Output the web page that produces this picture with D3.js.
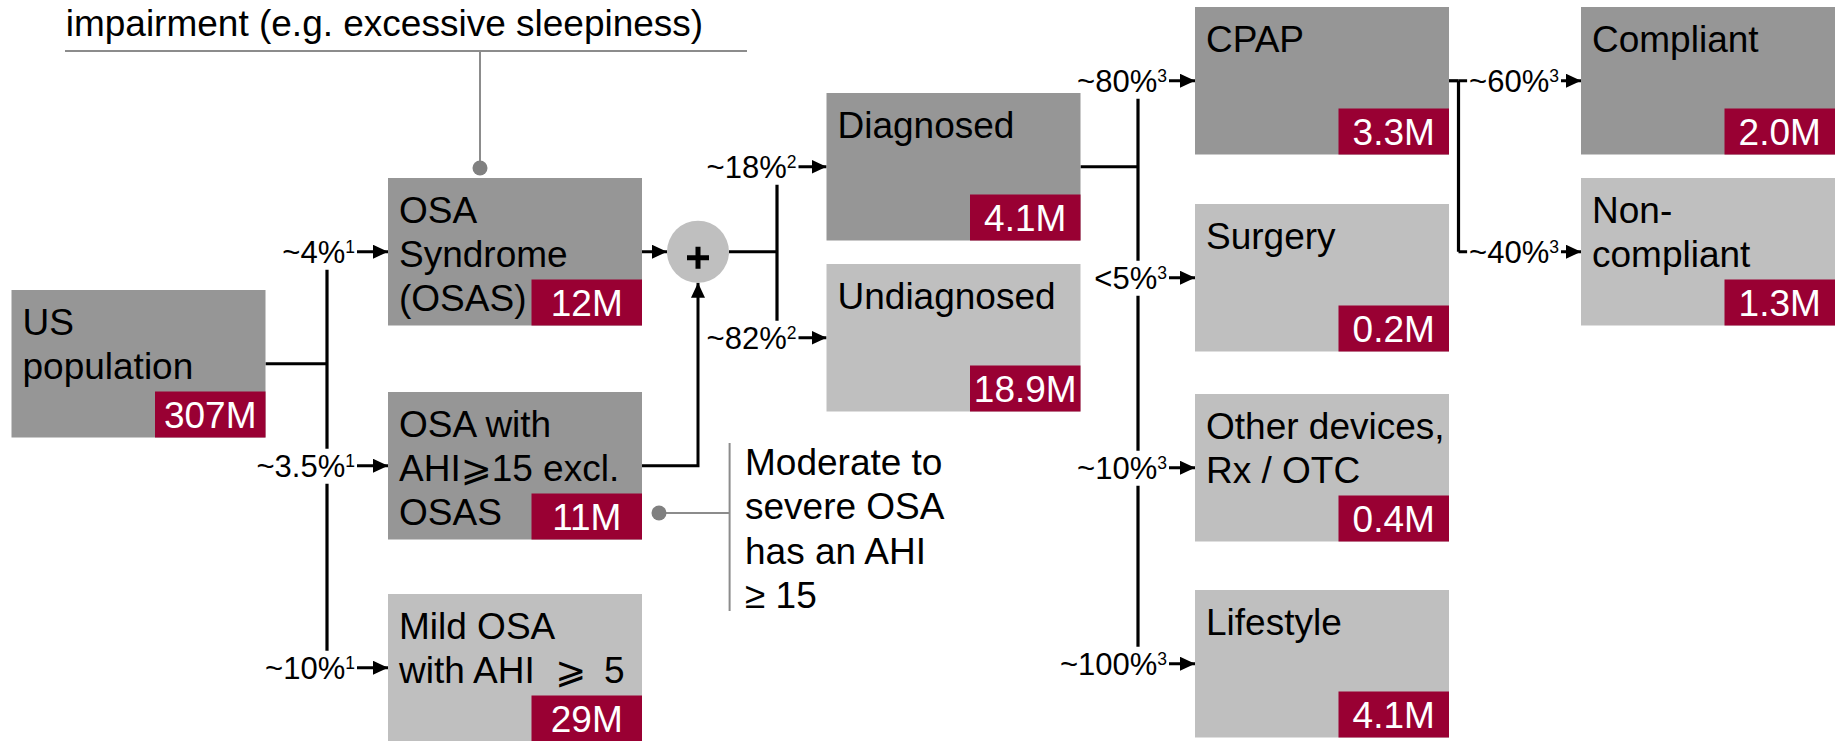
<!DOCTYPE html>
<html>
<head>
<meta charset="utf-8">
<script src="https://cdn.jsdelivr.net/npm/d3@7"></script>
<style>
  body { margin: 0; background: #fff; }
  svg { display: block; font-family: "Liberation Sans", Arial, Helvetica, "DejaVu Sans", sans-serif; }
</style>
</head>
<body>
<div id="container"></div>
<script>
// Funnel nodes
const nodeIds = ["us", "osas", "ahi15", "mild", "dx", "undx", "cpap", "surgery", "other", "lifestyle", "compliant", "noncompliant"];
const nodeLines = [
  ["US", "population"],
  ["OSA", "Syndrome", "(OSAS)"],
  ["OSA with", "AHI\u2A7E15 excl.", "OSAS"],
  ["Mild OSA", "with AHI\u00A0\u00A0\u2A7E\u2009 5"],
  ["Diagnosed"],
  ["Undiagnosed"],
  ["CPAP"],
  ["Surgery"],
  ["Other devices,", "Rx / OTC"],
  ["Lifestyle"],
  ["Compliant"],
  ["Non-", "compliant"]
];
// people, millions
const nodeValues = [307, 12, 11, 29, 4.1, 18.9, 3.3, 0.2, 0.4, 4.1, 2.0, 1.3];

// Flows between nodes ("plus" = OSAS + AHI>=15 combined)
const edgeSources = ["us", "us", "us", "plus", "plus", "dx", "dx", "dx", "dx", "cpap", "cpap"];
const edgeTargets = ["osas", "ahi15", "mild", "dx", "undx", "cpap", "surgery", "other", "lifestyle", "compliant", "noncompliant"];
const edgeShares = [4, 3.5, 10, 18, 82, 80, 5, 10, 100, 60, 40];
const edgeQualifiers = ["~", "~", "~", "~", "~", "~", "<", "~", "~", "~", "~"];
const edgeFootnotes = [1, 1, 1, 2, 2, 3, 3, 3, 3, 3, 3];

// Callout notes
const topNote = ["impairment (e.g. excessive sleepiness)"];
const sideNote = ["Moderate to", "severe OSA", "has an AHI", "\u2265 15"];

const width = 1843, height = 741;
const boxW = 254, boxH = 147.5;
const valW = 110.5, valH = 46;
const fontBig = 37, fontLabel = 31, fontSup = 17.5;
const dark = "#969696", light = "#bfbfbf", red = "#990033", noteGray = "#8c8c8c";

// layout (kept apart from the data)
const colX = d3.scaleOrdinal().domain([0, 1, 2, 3, 4]).range([11.5, 388, 826.5, 1195, 1581]);
const nodeCol = {us: 0, osas: 1, ahi15: 1, mild: 1, dx: 2, undx: 2, cpap: 3, surgery: 3, other: 3, lifestyle: 3, compliant: 4, noncompliant: 4};
const nodeTop = {us: 290, osas: 178, ahi15: 392, mild: 594, dx: 93, undx: 264, cpap: 7, surgery: 204, other: 394, lifestyle: 590, compliant: 7, noncompliant: 178};
const darkNodes = new Set(["us", "osas", "ahi15", "dx", "cpap", "compliant"]);
const branchX = {us: 327, plus: 777, dx: 1138, cpap: 1458.5};
const labelGap = {us: 33, plus: 30, dx: 28, cpap: 22};

const nodes = nodeIds.map((id, i) => ({
  id, lines: nodeLines[i], value: nodeValues[i],
  x: colX(nodeCol[id]), y: nodeTop[id]
}));
const byId = Object.fromEntries(nodes.map(d => [d.id, d]));
const cy = n => n.y + boxH / 2;

const plus = {cx: 698, cy: cy(byId.osas), r: 31};

const fmtInt = d3.format("d"), fmtDec = d3.format(".1f");
const fmtValue = d => (nodeCol[d.id] >= 2 ? fmtDec(d.value) : fmtInt(d.value)) + "M";

const svg = d3.select("#container")
  .append("svg")
  .attr("width", width)
  .attr("height", height);

svg.append("rect").attr("width", width).attr("height", height).attr("fill", "#fff");

svg.append("defs").append("marker")
  .attr("id", "arrow")
  .attr("markerUnits", "userSpaceOnUse")
  .attr("viewBox", "0 0 15 14")
  .attr("refX", 15).attr("refY", 7)
  .attr("markerWidth", 15).attr("markerHeight", 14)
  .attr("orient", "auto")
  .append("path")
  .attr("d", "M0,0L15,7L0,14Z")
  .attr("fill", "#000");

// layers: connectors under labels, labels under boxes
const notes = svg.append("g");
const lines = svg.append("g").attr("stroke", "#000").attr("fill", "none");
const labelLayer = svg.append("g");
const boxLayer = svg.append("g");

// ---- callout notes (gray)
notes.append("text")
  .attr("x", 65.7).attr("y", 35.7)
  .attr("font-size", fontBig)
  .text(topNote[0]);
notes.append("line")
  .attr("x1", 65).attr("x2", 747).attr("y1", 51).attr("y2", 51)
  .attr("stroke", noteGray).attr("stroke-width", 2);
notes.append("line")
  .attr("x1", 480).attr("x2", 480).attr("y1", 51).attr("y2", 168)
  .attr("stroke", noteGray).attr("stroke-width", 2);
notes.append("circle").attr("cx", 480).attr("cy", 168).attr("r", 7.5).attr("fill", "#808080");

const ahi = byId.ahi15;
notes.append("line")
  .attr("x1", ahi.x + boxW + 17).attr("x2", 729.6)
  .attr("y1", 513).attr("y2", 513)
  .attr("stroke", noteGray).attr("stroke-width", 2);
notes.append("circle").attr("cx", ahi.x + boxW + 17).attr("cy", 513).attr("r", 7.5).attr("fill", "#808080");
notes.append("line")
  .attr("x1", 729.6).attr("x2", 729.6).attr("y1", 443).attr("y2", 611)
  .attr("stroke", noteGray).attr("stroke-width", 2);
notes.append("text")
  .attr("font-size", fontBig)
  .selectAll("tspan")
  .data(sideNote)
  .join("tspan")
  .attr("x", 745)
  .attr("y", (d, i) => 475 + i * 44.3)
  .text(d => d);

// ---- boxes
const box = boxLayer.selectAll("g")
  .data(nodes)
  .join("g")
  .attr("transform", d => `translate(${d.x},${d.y})`);

box.append("rect")
  .attr("width", boxW).attr("height", boxH)
  .attr("fill", d => darkNodes.has(d.id) ? dark : light);

box.append("text")
  .attr("font-size", fontBig)
  .attr("fill", "#000")
  .selectAll("tspan")
  .data(d => d.lines)
  .join("tspan")
  .attr("x", 11)
  .attr("y", (d, i) => 45 + i * 44)
  .text(d => d);

box.append("rect")
  .attr("x", boxW - valW).attr("y", boxH - valH)
  .attr("width", valW).attr("height", valH)
  .attr("fill", red);

box.append("text")
  .attr("x", boxW - valW / 2).attr("y", boxH - 9.5)
  .attr("text-anchor", "middle")
  .attr("font-size", fontBig)
  .attr("fill", "#fff")
  .text(fmtValue);

// ---- plus node
boxLayer.append("circle")
  .attr("cx", plus.cx).attr("cy", plus.cy).attr("r", plus.r)
  .attr("fill", light);
boxLayer.append("path")
  .attr("d", `M${plus.cx - 11},${plus.cy + 6}H${plus.cx + 11}M${plus.cx},${plus.cy - 5}V${plus.cy + 17}`)
  .attr("stroke", "#000").attr("stroke-width", 5);

// ---- connectors
// into the plus node
const osas = byId.osas;
lines.append("line")
  .attr("x1", osas.x + boxW).attr("x2", plus.cx - plus.r)
  .attr("y1", cy(osas)).attr("y2", cy(osas))
  .attr("stroke-width", 3)
  .attr("marker-end", "url(#arrow)");
lines.append("path")
  .attr("d", `M${ahi.x + boxW},${cy(ahi)}H${plus.cx}V${plus.cy + plus.r}`)
  .attr("stroke-width", 3)
  .attr("marker-end", "url(#arrow)");

const edges = edgeSources.map((s, i) => ({
  source: s, target: byId[edgeTargets[i]],
  share: edgeShares[i], qual: edgeQualifiers[i], note: edgeFootnotes[i]
}));

const sourcePoint = s => s === "plus"
  ? [plus.cx + plus.r, plus.cy]
  : [byId[s].x + boxW, cy(byId[s])];

for (const s of Object.keys(branchX)) {
  const group = edges.filter(e => e.source === s);
  const [sx, sy] = sourcePoint(s);
  const bx = branchX[s];
  lines.append("line")
    .attr("x1", sx).attr("x2", bx).attr("y1", sy).attr("y2", sy)
    .attr("stroke-width", 3.2);
  const ys = group.map(e => cy(e.target)).concat([sy]);
  lines.append("line")
    .attr("x1", bx).attr("x2", bx)
    .attr("y1", d3.min(ys)).attr("y2", d3.max(ys))
    .attr("stroke-width", 3.2);
  lines.selectAll(null)
    .data(group)
    .join("line")
    .attr("x1", bx).attr("x2", e => e.target.x)
    .attr("y1", e => cy(e.target)).attr("y2", e => cy(e.target))
    .attr("stroke-width", 3)
    .attr("marker-end", "url(#arrow)");
}

// ---- share labels with white backing
const label = labelLayer.selectAll("g")
  .data(edges)
  .join("g");

const labelText = label.append("text")
  .attr("x", e => e.target.x - labelGap[e.source])
  .attr("y", e => cy(e.target) + 11)
  .attr("text-anchor", "end")
  .attr("fill", "#000");
labelText.append("tspan")
  .attr("font-size", fontLabel)
  .text(e => e.qual + e.share + "%");
labelText.append("tspan")
  .attr("font-size", fontSup)
  .attr("dy", -10)
  .text(e => e.note);

labelText.each(function() {
  const b = this.getBBox();
  d3.select(this.parentNode).insert("rect", "text")
    .attr("x", b.x - 2).attr("y", b.y)
    .attr("width", b.width + 4).attr("height", b.height)
    .attr("fill", "#fff");
});
</script>
</body>
</html>
